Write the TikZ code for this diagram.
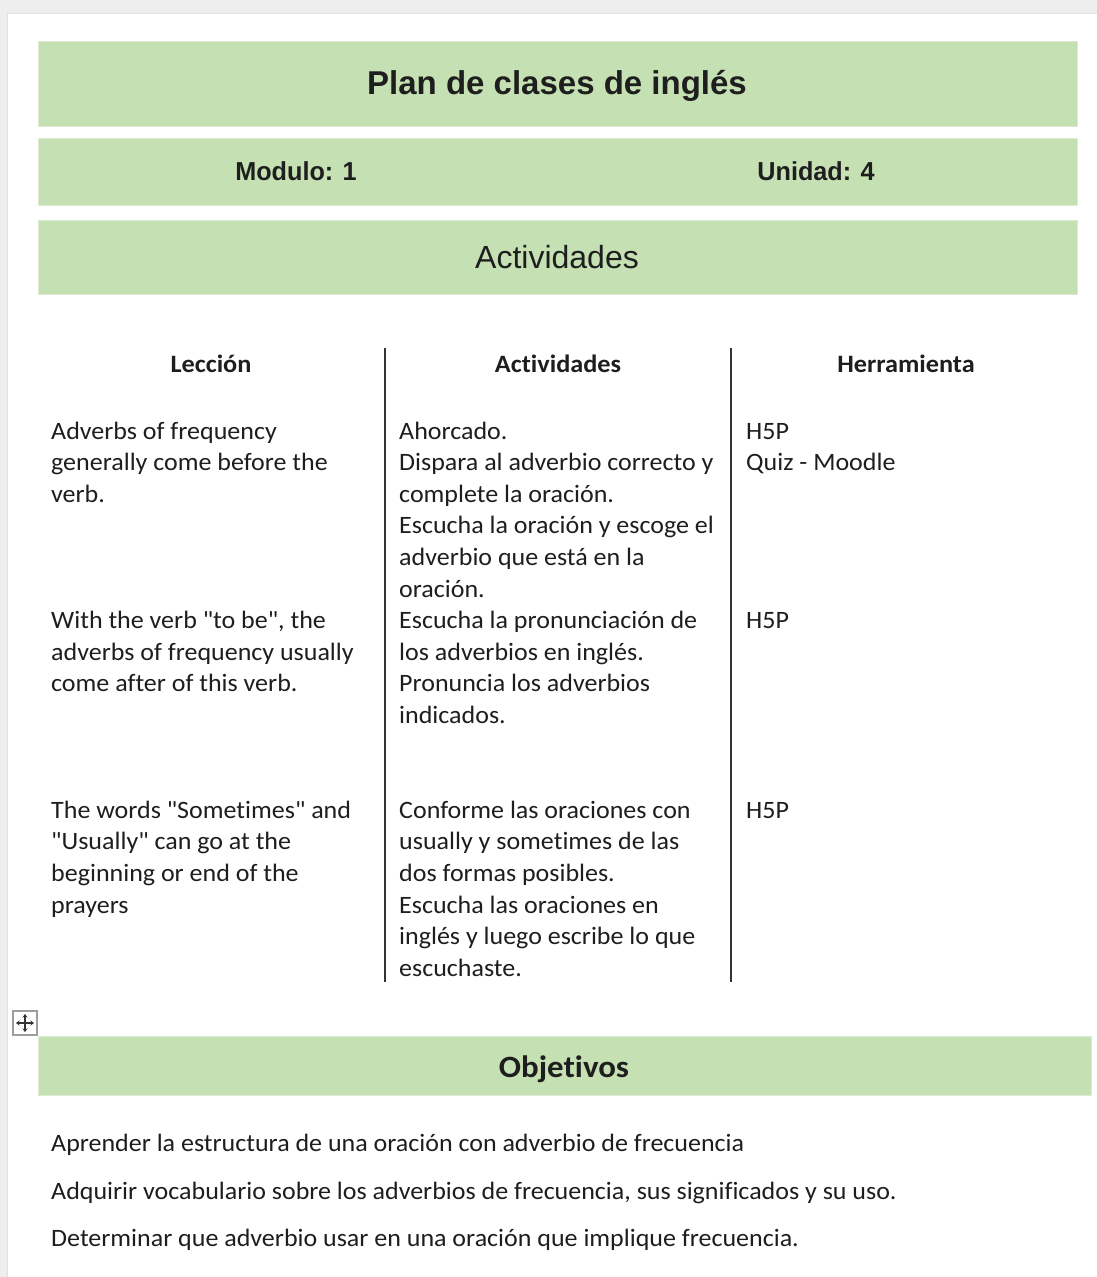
\documentclass[tikz,border=0pt]{standalone}
\usepackage{fontspec}
\setmainfont{Carlito}[Ligatures={TeXOff,NoCommon}]
\newfontfamily\arialf{Liberation Sans}
\usetikzlibrary{arrows.meta}
\definecolor{hdrgreen}{HTML}{C5E0B3}
\definecolor{edgegreen}{HTML}{DDEBD3}
\definecolor{shadowgray}{HTML}{EEEEEE}
\definecolor{txt}{HTML}{1E1E1E}
\definecolor{rulecol}{HTML}{333333}
\tikzset{
  greenbox/.style={fill=hdrgreen,draw=edgegreen,line width=0.8pt,anchor=north west,inner sep=0pt},
  body/.style={font=\fontsize{25}{30}\selectfont,inner sep=0pt,text=txt,anchor=base west,xscale=1.04,transform shape},
  colhead/.style={font=\bfseries\fontsize{25}{30}\selectfont,inner sep=0pt,text=txt,anchor=base,xscale=1.05,transform shape},
  arialhead/.style={font=\arialf\bfseries\fontsize{26}{30}\selectfont,inner sep=0pt,text=txt,anchor=base,xscale=0.97,transform shape},
  colrule/.style={draw=rulecol,line width=1.8pt},
  handlearrow/.style={black!80,line width=1.1pt,-{Stealth[length=3.5pt,width=5pt]}}
}
\begin{document}
\begin{tikzpicture}[x=1pt,y=-1pt]
\useasboundingbox (0,0) rectangle (1097,1277);
\fill[shadowgray] (0,0) rectangle (1097,1277);
\fill[white] (7,13) rectangle (1097,1277);
\draw[color=black!12,line width=1pt] (7,1277) -- (7,13) -- (1097,13);

% header boxes
\node[greenbox,minimum width=1039pt,minimum height=85pt] (titlebox) at (38,41) {};
\node[greenbox,minimum width=1039pt,minimum height=67pt] (modbox) at (38,138) {};
\node[greenbox,minimum width=1039pt,minimum height=74pt] (actbox) at (38,220) {};
\node[font=\arialf\bfseries\fontsize{33}{40}\selectfont,inner sep=0pt,text=txt,anchor=base] (title) at (557,94) {Plan de clases de inglés};
\node[arialhead] (modulo) at (296,180) {Modulo: 1};
\node[arialhead] (unidad) at (816,180) {Unidad: 4};
\node[font=\arialf\fontsize{32}{38}\selectfont,inner sep=0pt,text=txt,anchor=base] (acttitle) at (557,268) {Actividades};

% table
\node[colhead] (hlec) at (211,372) {Lección};
\node[colhead] (hact) at (558,372) {Actividades};
\node[colhead] (hher) at (906,372) {Herramienta};
\coordinate (r1t) at (385,348);
\coordinate (r1b) at (385,982);
\coordinate (r2t) at (731,348);
\coordinate (r2b) at (731,982);
\draw[colrule] (r1t) -- (r1b);
\draw[colrule] (r2t) -- (r2b);

% column 1
\foreach \t [count=\i from 0] in {{Adverbs of frequency},{generally come before the},{verb.}}
  \node[body] (a\i) at (51,{439+31.6*\i}) {\t};
\foreach \t [count=\i from 6] in {{With the verb "to be", the},{adverbs of frequency usually},{come after of this verb.}}
  \node[body] (a\i) at (51,{439+31.6*\i}) {\t};
\foreach \t [count=\i from 12] in {{The words "Sometimes" and},{"Usually" can go at the},{beginning or end of the},{prayers}}
  \node[body] (a\i) at (51,{439+31.6*\i}) {\t};

% column 2
\foreach \t [count=\i from 0] in {{Ahorcado.},{Dispara al adverbio correcto y},{complete la oración.},{Escucha la oración y escoge el},{adverbio que está en la},{oración.},{Escucha la pronunciación de},{los adverbios en inglés.},{Pronuncia los adverbios},{indicados.}}
  \node[body] (b\i) at (399,{439+31.6*\i}) {\t};
\foreach \t [count=\i from 12] in {{Conforme las oraciones con},{usually y sometimes de las},{dos formas posibles.},{Escucha las oraciones en},{inglés y luego escribe lo que},{escuchaste.}}
  \node[body] (b\i) at (399,{439+31.6*\i}) {\t};

% column 3
\node[body] (c0) at (746,439) {H5P};
\node[body] (c1) at (746,470.6) {Quiz - Moodle};
\node[body] (c6) at (746,628.6) {H5P};
\node[body] (c12) at (746,818.2) {H5P};

% move handle icon
\node[draw=black!38,line width=1.2pt,fill=white,minimum size=24pt,inner sep=0pt] (handle) at (25,1023) {};
\draw[handlearrow] (handle.center) -- +(9,0);
\draw[handlearrow] (handle.center) -- +(-9,0);
\draw[handlearrow] (handle.center) -- +(0,9);
\draw[handlearrow] (handle.center) -- +(0,-9);

% objetivos
\node[greenbox,minimum width=1053pt,minimum height=59pt] (objbox) at (38,1036) {};
\node[font=\bfseries\fontsize{31}{36}\selectfont,inner sep=0pt,text=txt,anchor=base,xscale=1.06,transform shape] (objt) at (564,1077) {Objetivos};
\node[body] (o1) at (51,1151) {Aprender la estructura de una oración con adverbio de frecuencia};
\node[body] (o2) at (51,1199) {Adquirir vocabulario sobre los adverbios de frecuencia, sus significados y su uso.};
\node[body] (o3) at (51,1246) {Determinar que adverbio usar en una oración que implique frecuencia.};
\end{tikzpicture}
\end{document}
